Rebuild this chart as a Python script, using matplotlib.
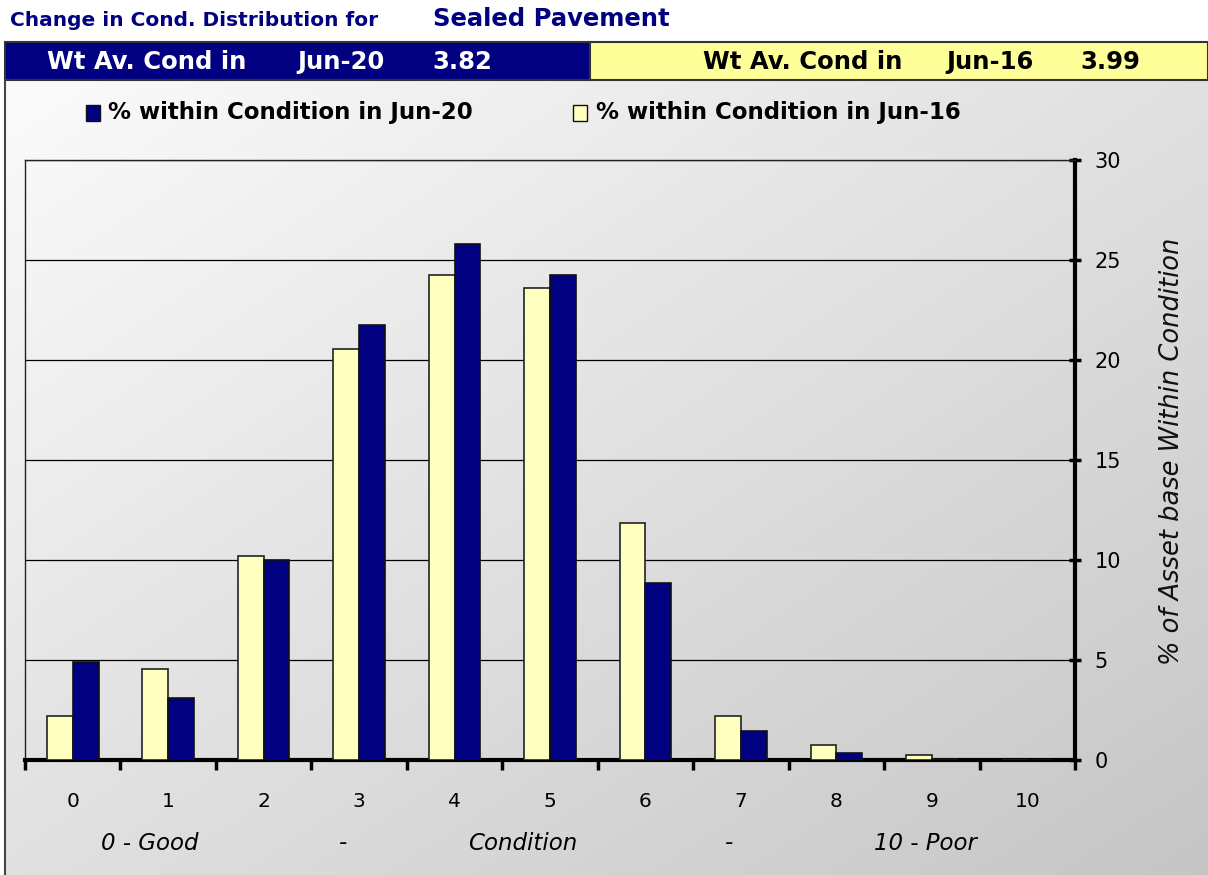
import numpy as np
import matplotlib
matplotlib.use("Agg")
import matplotlib.pyplot as plt
from matplotlib.patches import Rectangle

plt.rcParams['font.family'] = ['DejaVu Sans']

categories = ['0', '1', '2', '3', '4', '5', '6', '7', '8', '9', '10']
jun20 = [4.9, 3.1, 10.0, 21.75, 25.8, 24.25, 8.85, 1.45, 0.35, 0.05, 0.0]
jun16 = [2.2, 4.55, 10.2, 20.55, 24.25, 23.6, 11.85, 2.2, 0.75, 0.25, 0.0]
bottom_labels = ['0 - Good', '-', 'Condition', '-', '10 - Poor']
bottom_label_pos = [0.81, 2.83, 4.71, 6.88, 8.93]
title_left = 'Change in Cond. Distribution for'
title_right = 'Sealed Pavement'
band_left = ['Wt Av. Cond in', 'Jun-20', '3.82']
band_right = ['Wt Av. Cond in', 'Jun-16', '3.99']
legend_labels = ['% within Condition in Jun-20', '% within Condition in Jun-16']

NAVY = '#000080'
YELLOW = '#FFFFC0'
BANDY = '#FFFF99'

W, H = 1208, 875
fig = plt.figure(figsize=(W / 100, H / 100), dpi=100)

def fx(px):
    return px / W

def fy(py):
    return 1 - py / H

# Background gradient panel
bg = fig.add_axes([fx(5), 0, 1 - fx(5), fy(80)], zorder=-10)
gx = np.linspace(0, 1, 300)
gy = np.linspace(0, 1, 300)
GX, GY = np.meshgrid(gx, gy)
grad = 0.5 * GX + 0.5 * GY
vals = 0.985 - 0.21 * grad
img = np.dstack([vals, vals, vals])
bg.imshow(img, extent=[0, 1, 0, 1], aspect='auto', origin='upper')
bg.set_axis_off()

# Bands
fig.patches.append(Rectangle((fx(5), fy(80)), fx(590) - fx(5), fy(42) - fy(80),
                             transform=fig.transFigure, facecolor=NAVY,
                             edgecolor='#333333', lw=1.5, zorder=1))
fig.patches.append(Rectangle((fx(590), fy(80)), 1 - fx(590), fy(42) - fy(80),
                             transform=fig.transFigure, facecolor=BANDY,
                             edgecolor='#333333', lw=1.5, zorder=1))
fig.add_artist(plt.Line2D([fx(5), fx(5)], [0, fy(80)], transform=fig.transFigure,
                          color='#444444', lw=1.5))

fig.text(fx(10), fy(21), title_left, color=NAVY, fontsize=14.5, fontweight='bold', va='center')
fig.text(fx(433), fy(19), title_right, color=NAVY, fontsize=17.5, fontweight='bold', va='center')

for txt, px in zip(band_left, [47, 297, 432]):
    fig.text(fx(px), fy(62), txt, color='white', fontsize=17.5, fontweight='bold', va='center')
for txt, px in zip(band_right, [703, 946, 1080]):
    fig.text(fx(px), fy(62), txt, color='black', fontsize=17.5, fontweight='bold', va='center')

# Main axes
ax = fig.add_axes([fx(25), fy(760), fx(1075) - fx(25), fy(160) - fy(760)])
ax.patch.set_alpha(0)
x = np.arange(len(categories))
w = 0.27
ax.bar(x - w / 2, jun16, width=w, color=YELLOW, edgecolor='#222222', lw=1.2, zorder=3,
       label=legend_labels[1])
ax.bar(x + w / 2, jun20, width=w, color=NAVY, edgecolor='#111111', lw=1.2, zorder=3,
       label=legend_labels[0])
ax.set_xlim(-0.5, len(categories) - 0.5)
ax.set_ylim(0, 30)
ax.yaxis.tick_right()
ax.yaxis.set_label_position('right')
ax.set_yticks([0, 5, 10, 15, 20, 25, 30])
ax.grid(axis='y', color='black', lw=0.9, zorder=0)
ax.tick_params(axis='y', direction='inout', length=8, width=2.5, labelsize=15, pad=10)
ax.set_xticks(np.arange(-0.5, len(categories), 1.0))
ax.set_xticklabels([])
ax.tick_params(axis='x', direction='out', length=7, width=2.5)
ax.set_xticks(x, minor=True)
ax.set_xticklabels(categories, minor=True)
ax.tick_params(axis='x', which='minor', length=0, labelsize=14.5, pad=23)
for s in ['left', 'top']:
    ax.spines[s].set_linewidth(1.0)
    ax.spines[s].set_color('#222222')
ax.spines['bottom'].set_linewidth(3.0)
ax.spines['right'].set_linewidth(3.0)
ax.set_ylabel('% of Asset base Within Condition', fontsize=18.5, style='italic',
              rotation=90, color='#111111')
ax.yaxis.set_label_coords(1.080, 0.515)

for lbl, pos in zip(bottom_labels, bottom_label_pos):
    ax.text(pos, -4.15, lbl, ha='center', va='center', fontsize=16.5, style='italic')

# Legend (manual)
fig.patches.append(Rectangle((fx(86), fy(121)), fx(14), fy(105) - fy(121),
                             transform=fig.transFigure, facecolor=NAVY, edgecolor='#111111', lw=1))
fig.text(fx(108), fy(113), legend_labels[0], fontsize=16.5, fontweight='bold', va='center')
fig.patches.append(Rectangle((fx(573), fy(121)), fx(14), fy(105) - fy(121),
                             transform=fig.transFigure, facecolor=YELLOW, edgecolor='#111111', lw=1))
fig.text(fx(596), fy(113), legend_labels[1], fontsize=16.5, fontweight='bold', va='center')

fig.savefig('out.png', dpi=100)
